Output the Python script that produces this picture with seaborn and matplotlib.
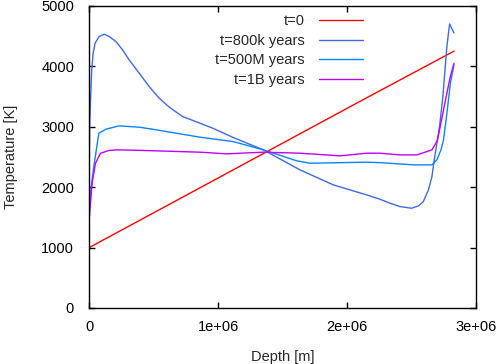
import matplotlib
matplotlib.use("Agg")
import matplotlib.pyplot as plt
import seaborn as sns

# t=0 : linear initial profile
depth_t0 = [0, 0.86e6, 2.1e6, 2.828e6]
temp_t0 = [1000, 1990, 3420, 4250]

# t=800k years
depth_800k = [0, 0.004e6, 0.019e6, 0.03e6, 0.045e6, 0.076e6, 0.115e6, 0.154e6, 0.206e6,
              0.258e6, 0.309e6, 0.387e6, 0.464e6, 0.542e6, 0.62e6, 0.724e6, 0.827e6,
              0.957e6, 1.117e6, 1.35e6, 1.634e6, 1.893e6, 2.152e6, 2.253e6, 2.333e6,
              2.41e6, 2.50e6, 2.553e6, 2.59e6, 2.63e6, 2.657e6, 2.675e6, 2.716e6,
              2.742e6, 2.773e6, 2.794e6, 2.81e6, 2.828e6]
temp_800k = [2500, 3113, 3940, 4217, 4382, 4492, 4530, 4492, 4410,
             4272, 4106, 3886, 3665, 3472, 3323, 3167, 3084,
             2975, 2820, 2616, 2285, 2036, 1870, 1800, 1733,
             1677, 1650, 1689, 1760, 1954, 2174, 2450, 3000,
             3500, 4326, 4700, 4630, 4550]

# t=500M years
depth_500m = [0, 0.015e6, 0.035e6, 0.074e6, 0.128e6, 0.23e6, 0.387e6, 0.49e6, 0.858e6,
              1.117e6, 1.35e6, 1.61e6, 1.71e6, 2.15e6, 2.253e6, 2.40e6, 2.514e6,
              2.657e6, 2.695e6, 2.727e6, 2.747e6, 2.773e6, 2.80e6, 2.828e6]
temp_500m = [1700, 2000, 2340, 2890, 2958, 3013, 2992, 2958, 2826,
             2753, 2616, 2434, 2395, 2412, 2405, 2384, 2368,
             2368, 2450, 2616, 2781, 3220, 3720, 4023]

# t=1B years
depth_1b = [0, 0.022e6, 0.048e6, 0.087e6, 0.15e6, 0.216e6, 0.36e6, 0.858e6, 1.065e6,
            1.35e6, 1.634e6, 1.945e6, 2.15e6, 2.253e6, 2.41e6, 2.54e6, 2.58e6,
            2.657e6, 2.68e6, 2.70e6, 2.716e6, 2.747e6, 2.773e6, 2.80e6, 2.828e6]
temp_1b = [1490, 2065, 2395, 2560, 2605, 2616, 2610, 2578, 2550,
           2578, 2561, 2517, 2561, 2561, 2533, 2533, 2561,
           2616, 2699, 2781, 2947, 3278, 3555, 3830, 4050]

labels = ["t=0", "t=800k years", "t=500M years", "t=1B years"]
colors = ["#ff0000", "#4169e1", "#0a84ff", "#c000ff"]

sns.set_style("ticks")
plt.rcParams["font.family"] = ["Liberation Sans", "DejaVu Sans"]

fig = plt.figure(figsize=(4.96, 3.64), dpi=100)
ax = fig.add_axes([0.180, 0.154, 0.780, 0.830])

series = [(depth_t0, temp_t0), (depth_800k, temp_800k),
          (depth_500m, temp_500m), (depth_1b, temp_1b)]
for (xs, ys), lab, col in zip(series, labels, colors):
    sns.lineplot(x=xs, y=ys, ax=ax, color=col, label=lab, linewidth=1,
                 sort=False, estimator=None)

ax.set_xlim(0, 3e6)
ax.set_ylim(0, 5000)
ax.set_xticks([0, 1e6, 2e6, 3e6])
ax.set_xticklabels(["0", "1e+06", "2e+06", "3e+06"])
ax.set_yticks(range(0, 5001, 1000))

ax.tick_params(direction="in", length=4, width=1, top=True, right=True,
               labelsize=10.5, colors="black")
ax.tick_params(axis="x", pad=9)
ax.tick_params(axis="y", pad=11)
for s in ax.spines.values():
    s.set_linewidth(1)
    s.set_color("black")

ax.set_xlabel("Depth [m]", fontsize=10.5, labelpad=11)
ax.set_ylabel("Temperature [K]", fontsize=10.5, labelpad=17)

ax.legend(loc="upper right", bbox_to_anchor=(0.732, 0.962),
          bbox_transform=fig.transFigure, frameon=False, markerfirst=False,
          fontsize=10.5, handlelength=3.0, handletextpad=1.0,
          labelspacing=0.4, borderpad=0, borderaxespad=0)

fig.savefig("out.png", dpi=100)
